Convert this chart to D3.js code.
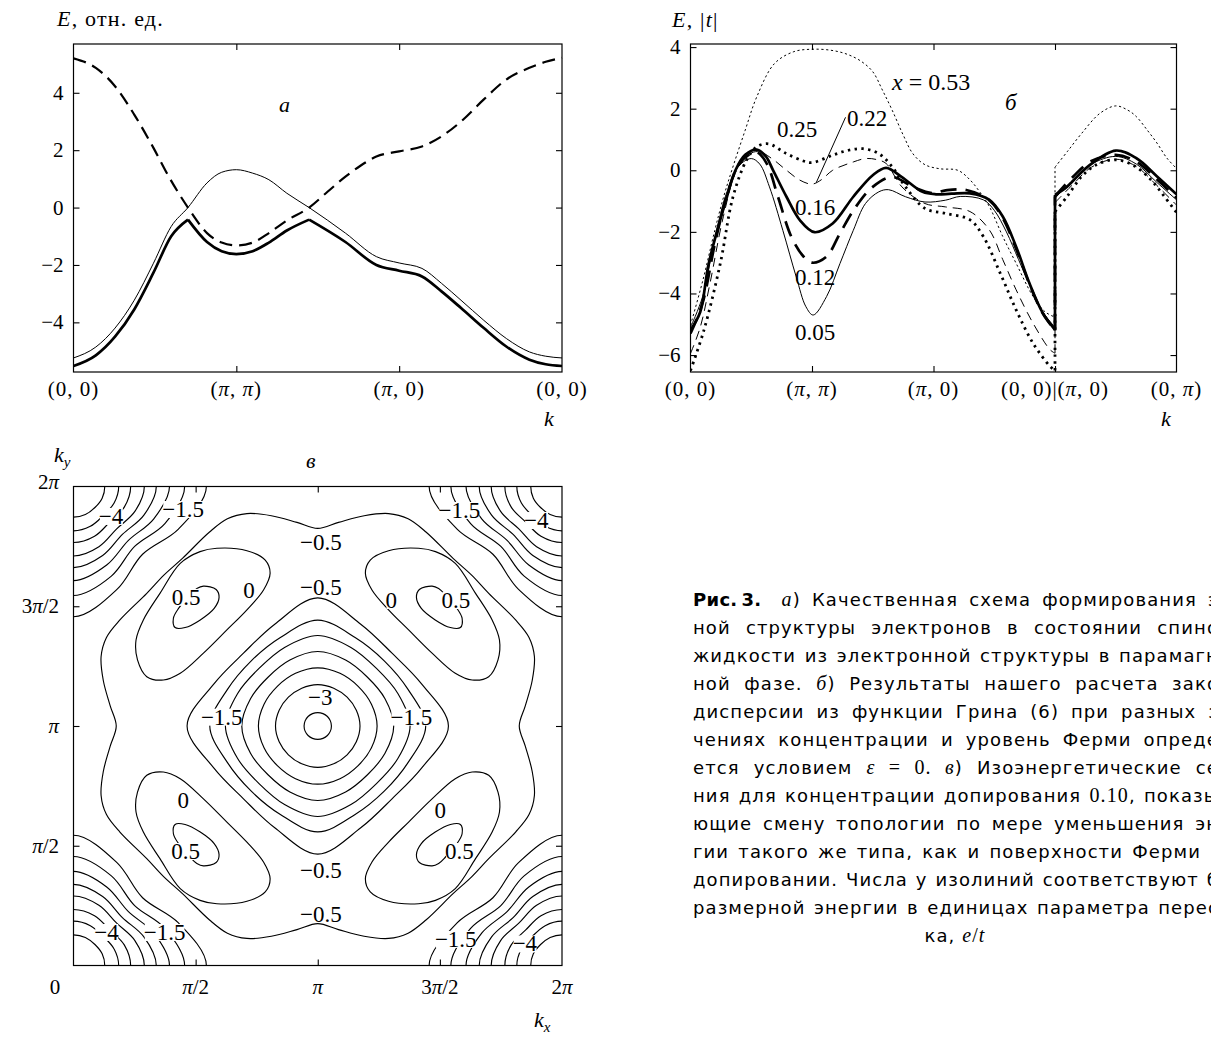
<!DOCTYPE html>
<html>
<head>
<meta charset="utf-8">
<script src="https://cdn.jsdelivr.net/npm/d3@7"></script>
<style>
  body { margin: 0; background: #fff; }
  svg text { font-family: "Liberation Serif", serif; fill: #000; }
</style>
</head>
<body>
<svg id="fig" width="1211" height="1037"></svg>
<script>
/* global d3 */

// ---------- panel a: band scheme, path (0,0)-(pi,pi)-(pi,0)-(0,0)
const aPathLabels = ['(0, 0)', '(π, π)', '(π, 0)', '(0, 0)']
const aTicksY = [-4, -2, 0, 2, 4]
const aDashed = [[0, 5.2], [0.137, 4.87], [0.255, 4.23], [0.373, 3.24], [0.491, 2.08], [0.585, 1.08],
  [0.703, 0], [0.82, -0.89], [0.91, -1.22], [1.0, -1.32], [1.1, -1.22], [1.2, -0.89], [1.31, -0.45],
  [1.447, 0], [1.56, 0.55], [1.67, 1.08], [1.76, 1.45], [1.86, 1.78], [2.0, 1.96], [2.14, 2.13],
  [2.26, 2.48], [2.38, 3.0], [2.52, 3.77], [2.66, 4.47], [2.8, 4.87], [2.9, 5.08], [3.0, 5.22]]
const aThin = [[0, -5.24], [0.137, -4.86], [0.255, -4.2], [0.373, -3.23], [0.491, -1.94], [0.6, -0.66],
  [0.703, 0], [0.82, 0.86], [0.91, 1.23], [1.0, 1.32], [1.1, 1.2], [1.2, 0.97], [1.31, 0.5], [1.447, 0],
  [1.67, -0.89], [1.86, -1.71], [2.0, -1.93], [2.14, -2.12], [2.26, -2.64], [2.38, -3.23], [2.52, -3.93],
  [2.66, -4.57], [2.8, -5.03], [2.9, -5.18], [3.0, -5.24]]
const aThick = [[0, -5.52], [0.137, -5.15], [0.255, -4.5], [0.373, -3.55], [0.491, -2.27], [0.6, -1.0],
  [0.703, -0.42], [0.82, -1.2], [0.91, -1.52], [1.0, -1.62], [1.1, -1.52], [1.2, -1.22], [1.31, -0.8],
  [1.447, -0.42], [1.67, -1.2], [1.86, -2.0], [2.0, -2.2], [2.14, -2.4], [2.26, -2.92], [2.38, -3.5],
  [2.52, -4.2], [2.66, -4.85], [2.8, -5.3], [2.9, -5.46], [3.0, -5.52]]
const aThickCusps = [0.703, 1.447]

// ---------- panel b: dispersion for several x
const bPathLabels = ['(0, 0)', '(π, π)', '(π, 0)', '(0, 0)|(π, 0)', '(0, π)']
const bTicksY = [-6, -4, -2, 0, 2, 4]
const b053 = [[0, -5.03], [0.1, -3.6], [0.2, -1.95], [0.27, -0.9], [0.34, 0], [0.45, 1.3], [0.545, 2.38],
  [0.69, 3.46], [0.85, 3.85], [1.0, 3.93], [1.15, 3.9], [1.28, 3.78], [1.4, 3.55], [1.5, 3.2], [1.58, 2.6],
  [1.66, 1.95], [1.75, 1.15], [1.83, 0.54], [1.93, 0.18], [2.05, 0.05], [2.2, 0.0], [2.3, -0.31],
  [2.38, -0.7], [2.46, -1.18], [2.57, -2.15], [2.68, -3.02], [2.82, -4.1], [2.92, -4.6], [3.0, -4.77],
  [3.0, 0.1], [3.1, 0.6], [3.22, 1.2], [3.37, 1.85], [3.5, 2.09], [3.6, 1.95], [3.67, 1.74], [3.76, 1.3],
  [3.84, 0.88], [3.92, 0.4], [4.0, 0.06]]
const b025 = [[0, -6.5], [0.11, -5.2], [0.245, -3.03], [0.35, -0.86], [0.46, 0.32], [0.545, 0.76],
  [0.64, 0.86], [0.79, 0.54], [0.93, 0.3], [1.0, 0.25], [1.17, 0.49], [1.3, 0.65], [1.42, 0.7], [1.55, 0.54],
  [1.66, 0.11], [1.77, -0.54], [1.93, -1.24], [2.1, -1.4], [2.3, -1.61], [2.41, -2.15], [2.55, -3.35],
  [2.68, -4.53], [2.82, -5.62], [2.96, -6.37], [3.0, -6.5],
  [3.0, -1.34], [3.1, -0.85], [3.22, -0.2], [3.35, 0.2], [3.5, 0.34], [3.65, 0.15], [3.79, -0.31],
  [3.9, -0.85], [4.0, -1.37]]
const b022 = [[0, -5.95], [0.08, -5.1], [0.16, -3.68], [0.27, -1.51], [0.38, 0], [0.49, 0.54], [0.57, 0.6],
  [0.68, 0.35], [0.79, 0.0], [0.9, -0.32], [1.0, -0.45], [1.08, -0.3], [1.17, 0.0], [1.34, 0.27],
  [1.44, 0.38], [1.53, 0.35], [1.61, 0.22], [1.74, -0.54], [1.93, -1.08], [2.1, -1.19], [2.3, -1.34],
  [2.46, -1.94], [2.57, -2.9], [2.68, -3.88], [2.82, -4.97], [2.96, -5.83], [3.0, -5.94],
  [3.0, -1.05], [3.15, -0.45], [3.3, 0.1], [3.5, 0.36], [3.67, 0.12], [3.84, -0.5], [4.0, -1.13]]
const b016 = [[0, -5.19], [0.08, -4.6], [0.15, -3.03], [0.3, -0.86], [0.37, 0], [0.45, 0.5], [0.545, 0.67],
  [0.62, 0.45], [0.68, 0], [0.79, -0.86], [0.9, -1.62], [1.02, -2.01], [1.17, -1.73], [1.34, -0.86],
  [1.5, -0.16], [1.61, 0.08], [1.74, -0.22], [1.91, -0.7], [2.02, -0.78], [2.15, -0.76], [2.3, -0.75],
  [2.46, -0.96], [2.57, -1.5], [2.68, -2.48], [2.79, -3.67], [2.9, -4.64], [3.0, -5.18],
  [3.0, -0.8], [3.1, -0.53], [3.27, 0.12], [3.5, 0.64], [3.67, 0.39], [3.84, -0.2], [4.0, -0.78]]
const b012 = [[0, -5.3], [0.1, -4.3], [0.2, -2.4], [0.3, -0.8], [0.4, 0.2], [0.5, 0.55], [0.55, 0.58],
  [0.63, 0.2], [0.72, -0.86], [0.83, -2.16], [0.93, -2.8], [1.0, -3.0], [1.12, -2.8], [1.23, -2.05],
  [1.36, -1.19], [1.5, -0.54], [1.66, -0.22], [1.83, -0.54], [1.99, -0.74], [2.1, -0.65], [2.27, -0.64],
  [2.46, -0.98], [2.57, -1.55], [2.68, -2.55], [2.79, -3.7], [2.9, -4.65], [3.0, -5.2],
  [3.0, -0.85], [3.15, -0.2], [3.3, 0.3], [3.5, 0.5], [3.67, 0.28], [3.84, -0.3], [4.0, -0.9]]
const b005 = [[0, -5.1], [0.1, -4.1], [0.2, -2.2], [0.3, -0.7], [0.4, 0.15], [0.5, 0.38], [0.57, 0.2],
  [0.65, -0.54], [0.76, -1.95], [0.87, -3.46], [0.95, -4.43], [1.01, -4.7], [1.12, -4.1], [1.23, -3.03],
  [1.34, -1.95], [1.44, -1.08], [1.55, -0.7], [1.63, -0.63], [1.77, -0.86], [1.93, -1.03], [2.1, -0.97],
  [2.22, -0.85], [2.41, -0.96], [2.5, -1.3], [2.6, -2.0], [2.7, -2.9], [2.8, -3.8], [2.9, -4.6], [3.0, -5.1],
  [3.0, -0.91], [3.15, -0.3], [3.3, 0.2], [3.5, 0.45], [3.67, 0.2], [3.84, -0.4], [4.0, -0.96]]
const bLeader022 = [[1.276, 1.72], [1.035, -0.4]]

// ---------- panel c: isoenergy lines, k in units of pi
const cTicks = [0.5, 1, 1.5]
const cTickLabelsX = [['0', 0], ['π/2', 0.5], ['π', 1], ['3π/2', 1.5], ['2π', 2]]
const cTickLabelsY = [['π/2', 0.5], ['π', 1], ['3π/2', 1.5], ['2π', 2]]
// [level, r at 0deg, r at 22.5deg, r at 45deg]
const cCenterRings = [[-3.5, 0.056, 0.056, 0.056], [-3, 0.173, 0.171, 0.17], [-2.5, 0.243, 0.238, 0.234],
  [-2, 0.311, 0.298, 0.288], [-1.5, 0.378, 0.355, 0.34], [-1, 0.442, 0.4, 0.385], [-0.5, 0.535, 0.46, 0.43]]
const cCornerRings = [[-4.5, 0.128, 0.127, 0.124], [-4, 0.185, 0.18, 0.172], [-3.5, 0.234, 0.225, 0.21],
  [-3, 0.29, 0.272, 0.25], [-2.5, 0.339, 0.312, 0.283], [-2, 0.393, 0.355, 0.318],
  [-1.5, 0.455, 0.405, 0.354], [-1, 0.544, 0.465, 0.4]]
// level -0.5, outer wavy line: quarter from (kx, pi) to (pi, ky)
const cWavyQuarter = [[0.175, 1.0], [0.15, 1.085], [0.122, 1.19], [0.113, 1.29], [0.135, 1.37], [0.19, 1.443],
  [0.3, 1.554], [0.37, 1.63], [0.446, 1.7], [0.557, 1.81], [0.63, 1.865], [0.71, 1.887], [0.81, 1.878],
  [0.915, 1.85], [1.0, 1.825]]
// pocket around (pi/2, 3pi/2): level 0 and level 0.5
const cPocket0 = [[0.437, 1.679], [0.518, 1.728], [0.587, 1.742], [0.71, 1.732], [0.785, 1.693], [0.805, 1.638],
  [0.778, 1.568], [0.71, 1.485], [0.628, 1.401], [0.532, 1.304], [0.437, 1.22], [0.368, 1.192], [0.3, 1.206],
  [0.262, 1.276], [0.256, 1.359], [0.286, 1.443], [0.354, 1.554]]
const cPocket05 = [[0.532, 1.584], [0.584, 1.57], [0.596, 1.537], [0.576, 1.491], [0.519, 1.443], [0.457, 1.411],
  [0.416, 1.411], [0.409, 1.45], [0.43, 1.491], [0.477, 1.547], [0.505, 1.574]]
const cLabels = [['−4', 0.154, 1.877], ['−1.5', 0.449, 1.906], ['−1.5', 1.58, 1.902], ['−4', 1.895, 1.86],
  ['−0.5', 1.013, 1.768], ['−0.5', 1.013, 1.582], ['0.5', 0.461, 1.539], ['0', 0.719, 1.568],
  ['0', 1.301, 1.526], ['0.5', 1.565, 1.526], ['−3', 1.01, 1.122], ['−1.5', 0.607, 1.039],
  ['−1.5', 1.383, 1.039], ['0', 0.449, 0.691], ['0.5', 0.459, 0.478], ['0', 1.502, 0.649],
  ['0.5', 1.58, 0.478], ['−0.5', 1.013, 0.397], ['−0.5', 1.013, 0.215], ['−4', 0.135, 0.14],
  ['−1.5', 0.373, 0.14], ['−1.5', 1.565, 0.111], ['−4', 1.848, 0.092]]

// ---------- caption
const captionLines = [
  [['Рис.\u20093.', 'b'], ['\u2002\u2002', ''], ['a', 'm'], [') Качественная схема формирования э', '']],
  [['ной структуры электронов в состоянии спино', '']],
  [['жидкости из электронной структуры в парамагн', '']],
  [['ной фазе. ', ''], ['б', 'm'], [') Результаты нашего расчета зако', '']],
  [['дисперсии из функции Грина (6) при разных з', '']],
  [['чениях концентрации и уровень Ферми опреде', '']],
  [['ется условием ', ''], ['ε', 'm'], [' = 0. ', 'r'], ['в', 'm'], [') Изоэнергетические се', '']],
  [['ния для концентрации допирования ', ''], ['0.10', 'r'], [', показы', '']],
  [['ющие смену топологии по мере уменьшения эн', '']],
  [['гии такого же типа, как и поверхности Ферми', '']],
  [['допировании. Числа у изолиний соответствуют б', '']],
  [['размерной энергии в единицах параметра перес', '']]
]
const captionEnds = [1219, 1219, 1219, 1219, 1219, 1219, 1219, 1219, 1219, 1201, 1219, 1219]
const captionLast = [['ка, ', ''], ['e', 'm'], ['/', 'r'], ['t', 'm']]

// ======================================================================
const svg = d3.select('#fig')
const fmt = v => (v < 0 ? '−' + Math.abs(v) : String(v))
const TICK = 21

// text with latin letters / pi in italic
function rich(parent, x, y, str, size, anchor) {
  const t = parent.append('text').attr('x', x).attr('y', y)
    .attr('font-size', size).attr('text-anchor', anchor || 'start').style('white-space', 'pre')
  const re = /([A-Za-zπε]+)|([^A-Za-zπε]+)/g
  let m
  while ((m = re.exec(str))) {
    t.append('tspan').attr('font-style', m[1] ? 'italic' : null).text(m[0])
  }
  return t
}

function drawFrame(g, x, y) {
  g.append('rect')
    .attr('x', x.range()[0]).attr('y', y.range()[1])
    .attr('width', x.range()[1] - x.range()[0]).attr('height', y.range()[0] - y.range()[1])
    .attr('fill', 'none').attr('stroke', '#000').attr('stroke-width', 1.2)
}

function drawTicks(g, x, y, xt, yt) {
  const ax = [
    [d3.axisBottom(x).tickValues(xt), `translate(0,${y.range()[0]})`],
    [d3.axisTop(x).tickValues(xt), `translate(0,${y.range()[1]})`],
    [d3.axisLeft(y).tickValues(yt), `translate(${x.range()[0]},0)`],
    [d3.axisRight(y).tickValues(yt), `translate(${x.range()[1]},0)`]
  ]
  ax.forEach(([a, tr]) => {
    const s = g.append('g').attr('transform', tr).call(a.tickSize(-6).tickFormat(''))
    s.select('.domain').remove()
    s.selectAll('line').attr('stroke', '#000').attr('stroke-width', 1.1)
  })
}

function yLabels(g, x, y, vals) {
  vals.forEach(v => {
    g.append('text').attr('x', x.range()[0] - 10).attr('y', y(v) + 7)
      .attr('text-anchor', 'end').attr('font-size', TICK).text(fmt(v))
  })
}

// ---------------- panel a
const xA = d3.scaleLinear().domain([0, 3]).range([73.5, 562])
const yA = d3.scaleLinear().domain([-5.73, 5.7]).range([372, 44])
const gA = svg.append('g')
const lineA = d3.line().x(d => xA(d[0])).y(d => yA(d[1])).curve(d3.curveMonotoneX)

gA.append('path').attr('d', lineA(aThin)).attr('fill', 'none').attr('stroke', '#000').attr('stroke-width', 1)
gA.append('path').attr('d', lineA(aDashed)).attr('fill', 'none').attr('stroke', '#000')
  .attr('stroke-width', 2.2).attr('stroke-dasharray', '13,7')
let seg = []
const thickSegs = []
aThick.forEach(p => {
  seg.push(p)
  if (aThickCusps.includes(p[0])) { thickSegs.push(seg); seg = [p] }
})
thickSegs.push(seg)
thickSegs.forEach(s => gA.append('path').attr('d', lineA(s)).attr('fill', 'none')
  .attr('stroke', '#000').attr('stroke-width', 2.7))

drawFrame(gA, xA, yA)
drawTicks(gA, xA, yA, [1, 2], aTicksY)
yLabels(gA, xA, yA, aTicksY)
aPathLabels.forEach((l, i) => rich(gA, xA(i), 396, l, TICK, 'middle').attr('letter-spacing', 1))
rich(gA, 57, 26, 'E, отн. ед.', 22).attr('letter-spacing', 1.2)
rich(gA, 549, 426, 'k', 22, 'middle')
rich(gA, 279, 112, 'a', 22)

// ---------------- panel b
const xB = d3.scaleLinear().domain([0, 4]).range([690.5, 1176.5])
const yB = d3.scaleLinear().domain([-6.55, 4.1]).range([372, 44])
const gB = svg.append('g')
svg.append('clipPath').attr('id', 'clipB').append('rect')
  .attr('x', 690.5).attr('y', 44).attr('width', 486).attr('height', 328)
const curvesB = gB.append('g').attr('clip-path', 'url(#clipB)')
const lineB = d3.line().x(d => xB(d[0])).y(d => yB(d[1])).curve(d3.curveCatmullRom.alpha(0.5))
const bSeries = [
  { pts: b053, w: 1, dash: '2.2,2.6' },
  { pts: b005, w: 1, dash: null },
  { pts: b022, w: 1, dash: '9,6' },
  { pts: b025, w: 2.8, dash: '2.4,4.4' },
  { pts: b012, w: 2.7, dash: '16,9' },
  { pts: b016, w: 2.7, dash: null }
]
bSeries.forEach(s => {
  const k = s.pts.findIndex((p, i) => i > 0 && p[0] === s.pts[i - 1][0])
  const left = s.pts.slice(0, k), right = s.pts.slice(k)
  const pieces = [left, [left[left.length - 1], right[0]], right]
  pieces.forEach((pc, j) => {
    curvesB.append('path')
      .attr('d', j === 1 ? d3.line().x(d => xB(d[0])).y(d => yB(d[1]))(pc) : lineB(pc))
      .attr('fill', 'none').attr('stroke', '#000').attr('stroke-width', s.w)
      .attr('stroke-dasharray', s.dash)
  })
})
gB.append('path').attr('d', d3.line().x(d => xB(d[0])).y(d => yB(d[1]))(bLeader022))
  .attr('stroke', '#000').attr('stroke-width', 1)

drawFrame(gB, xB, yB)
drawTicks(gB, xB, yB, [1, 2, 3], bTicksY)
yLabels(gB, xB, yB, bTicksY)
bPathLabels.forEach((l, i) => rich(gB, xB(i), 396, l, TICK, 'middle').attr('letter-spacing', 1))
rich(gB, 672, 27, 'E, |t|', 22).attr('letter-spacing', 1.2)
rich(gB, 1166, 426, 'k', 22, 'middle')
rich(gB, 892, 90, 'x = 0.53', 24)
rich(gB, 1005, 110, 'б', 23).attr('font-style', 'italic')
rich(gB, 777, 137, '0.25', 23)
rich(gB, 847, 126, '0.22', 23)
rich(gB, 795, 215, '0.16', 23)
rich(gB, 795, 285, '0.12', 23)
rich(gB, 795, 340, '0.05', 23)

// ---------------- panel c
const xC = d3.scaleLinear().domain([0, 2]).range([73.5, 562])
const yC = d3.scaleLinear().domain([0, 2]).range([965.5, 486.5])
const gC = svg.append('g')
svg.append('clipPath').attr('id', 'clipC').append('rect')
  .attr('x', 73.5).attr('y', 486.5).attr('width', 488.5).attr('height', 479)
const cont = gC.append('g').attr('clip-path', 'url(#clipC)')
const closedC = d3.line().x(d => xC(d[0])).y(d => yC(d[1])).curve(d3.curveCatmullRomClosed.alpha(0.5))

function ring(cx, cy, r0, r22, r45) {
  const rs = [r0, r22, r45, r22]
  return d3.range(16).map(k => {
    const a = k * Math.PI / 8
    return [cx + rs[k % 4] * Math.cos(a), cy + rs[k % 4] * Math.sin(a)]
  })
}
function drawC(pts) {
  cont.append('path').attr('d', closedC(pts)).attr('fill', 'none')
    .attr('stroke', '#000').attr('stroke-width', 1.15)
}
cCenterRings.forEach(r => drawC(ring(1, 1, r[1], r[2], r[3])))
;[[0, 0], [0, 2], [2, 0], [2, 2]].forEach(([cx, cy]) =>
  cCornerRings.forEach(r => drawC(ring(cx, cy, r[1], r[2], r[3]))))
// outer wavy line from the quarter, mirrored about kx = pi and ky = pi
const q = cWavyQuarter
const wavy = [].concat(
  q,
  q.slice(0, -1).reverse().map(p => [2 - p[0], p[1]]),
  q.slice(1).map(p => [2 - p[0], 2 - p[1]]),
  q.slice(1, -1).reverse().map(p => [p[0], 2 - p[1]])
)
drawC(wavy)
const mirrors = [p => p, p => [2 - p[0], p[1]], p => [p[0], 2 - p[1]], p => [2 - p[0], 2 - p[1]]]
mirrors.forEach(f => { drawC(cPocket0.map(f)); drawC(cPocket05.map(f)) })

// contour labels on a white patch
cLabels.forEach(([s, kx, ky]) => {
  const t = gC.append('text').attr('x', xC(kx)).attr('y', yC(ky) + 8)
    .attr('text-anchor', 'middle').attr('font-size', 23).text(s)
  const bb = t.node().getBBox()
  gC.insert('rect', () => t.node())
    .attr('x', bb.x + 1).attr('y', bb.y + 4).attr('width', bb.width - 2).attr('height', bb.height - 8)
    .attr('fill', '#fff')
})

drawFrame(gC, xC, yC)
drawTicks(gC, xC, yC, cTicks, cTicks)
cTickLabelsX.forEach(([s, v]) => rich(gC, v === 0 ? 55 : xC(v), 994, s, TICK, 'middle'))
cTickLabelsY.forEach(([s, v]) => rich(gC, 59, v === 2 ? 489 : yC(v) + 7, s, TICK, 'end'))
const ky = rich(gC, 54, 462, 'k', 22)
ky.append('tspan').attr('font-size', 15).attr('font-style', 'italic').attr('dy', 5).text('y')
const kx = rich(gC, 534, 1027, 'k', 22)
kx.append('tspan').attr('font-size', 15).attr('font-style', 'italic').attr('dy', 5).text('x')
rich(gC, 306, 468, 'в', 22).attr('font-style', 'italic')

// ---------------- caption, justified by word spacing
const capX0 = 693, capY0 = 606, capStep = 28
function capPart(t, s, st) {
  const ts = t.append('tspan').text(s)
  if (st === 'b') ts.attr('font-weight', 'bold').attr('letter-spacing', 0.3)
  if (st === 'm') ts.attr('font-family', 'Liberation Serif').attr('font-style', 'italic').attr('font-size', 20)
  if (st === 'r') ts.attr('font-family', 'Liberation Serif').attr('font-size', 20)
}
captionLines.forEach((parts, i) => {
  const t = svg.append('text').attr('x', capX0).attr('y', capY0 + i * capStep)
    .attr('font-size', 18).attr('letter-spacing', 1.1)
    .style('font-family', '"DejaVu Sans", sans-serif').style('white-space', 'pre')
  parts.forEach(([s, st]) => capPart(t, s, st))
  const natural = t.node().getComputedTextLength()
  const spaces = t.text().split(' ').length - 1
  t.style('word-spacing', Math.max(0, (captionEnds[i] - capX0 - natural) / spaces) + 'px')
})
const last = svg.append('text').attr('x', 955).attr('y', capY0 + 12 * capStep)
  .attr('text-anchor', 'middle').attr('font-size', 18).attr('letter-spacing', 1.1)
  .style('font-family', '"DejaVu Sans", sans-serif').style('white-space', 'pre')
captionLast.forEach(([s, st]) => capPart(last, s, st))
</script>
</body>
</html>
